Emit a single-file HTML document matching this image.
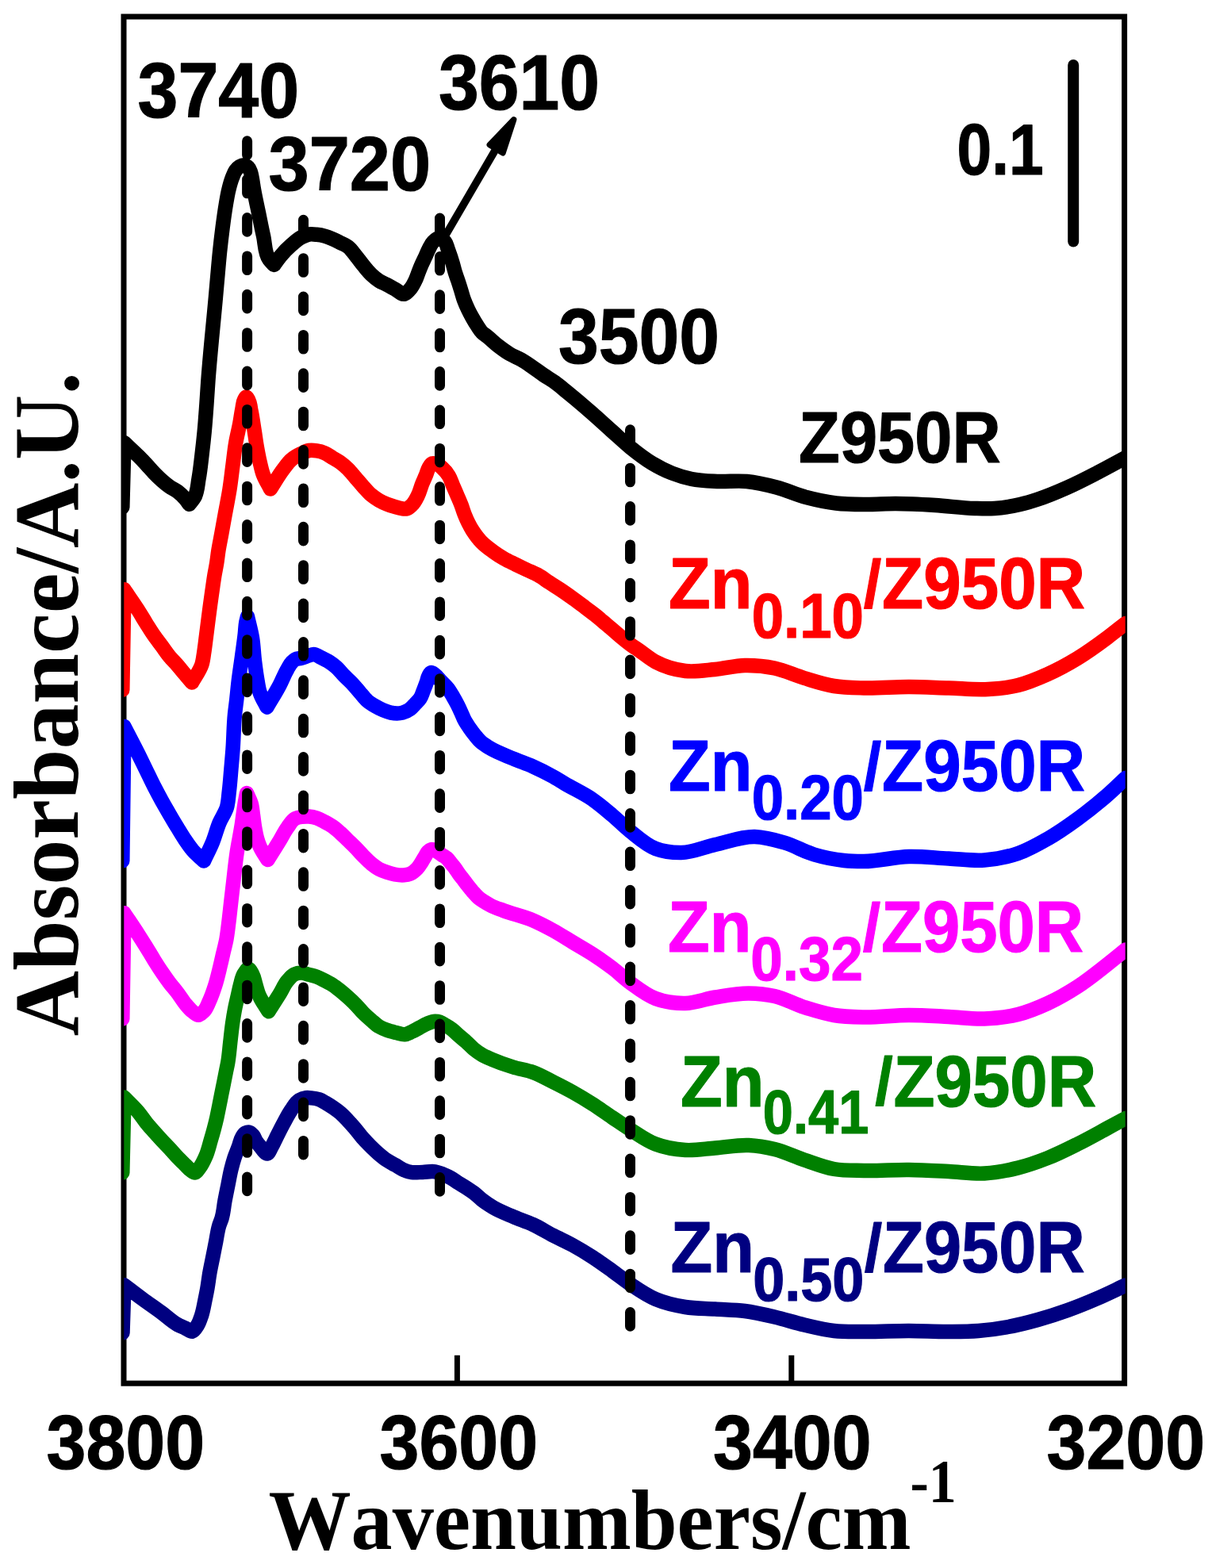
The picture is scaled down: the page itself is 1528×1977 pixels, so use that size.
<!DOCTYPE html>
<html lang="en">
<head>
<meta charset="utf-8">
<title>FTIR spectra of Zn/Z950R catalysts</title>
<style>
html,body{margin:0;padding:0;background:#fff;}
body{width:1528px;height:1977px;overflow:hidden;}
svg{display:block;}
text{white-space:pre;font-kerning:none;}
</style>
</head>
<body>
<svg xmlns="http://www.w3.org/2000/svg" width="1528" height="1977" viewBox="0 0 1528 1977">
<rect width="1528" height="1977" fill="#fff"/>
<defs><clipPath id="plot"><rect x="156.3" y="21" width="1262.4" height="1723.2"/></clipPath></defs>
<g id="axes" fill="none" stroke="#000" stroke-width="7" stroke-linejoin="miter">
<rect x="156" y="21" width="1261.6" height="1723.2"/>
<line x1="576.4" y1="1744.2" x2="576.4" y2="1708.8"/>
<line x1="997.8" y1="1744.2" x2="997.8" y2="1708.8"/>
</g>
<g id="curves" clip-path="url(#plot)" fill="none" stroke-width="18.5" stroke-linejoin="round" stroke-linecap="round">
<path id="c-black" stroke="#000000" d="M154.3 639.5L156.5 558C162.5 563.7 168.67 569.23 174.5 575.1C177.86 578.48 181.15 581.92 184.4 585.4C187.72 588.95 190.82 592.71 194.2 596.2C197.37 599.46 200.59 602.7 204 605.7C207.14 608.47 210.36 611.21 213.8 613.6C216.92 615.77 220.56 617.23 223.6 619.5C227.19 622.18 230.49 625.39 233.4 628.8C235.28 631 236.87 633.47 238.6 635.8C240.8 632.87 243.43 630.13 245.2 627C249.14 620.02 249.13 611.13 250.6 603.1C252.39 593.35 253.31 583.45 254.5 573.6C255.68 563.81 256.77 554.01 257.7 544.2C258.79 532.75 259.57 521.27 260.4 509.8C261.12 499.87 261.68 489.93 262.4 480C264.96 444.62 268.86 409.34 272 374C272.8 364.97 273.59 355.93 274.4 346.9C275.28 337.07 276.08 327.22 277.1 317.4C278.12 307.59 279.24 297.78 280.5 288C281.77 278.15 283.03 268.29 284.7 258.5C285.81 251.95 286.79 245.34 288.4 238.9C289.64 233.95 290.94 228.95 292.8 224.2C294.03 221.07 295.02 217.66 297 215C298.38 213.14 300.01 211.12 302 210C303.75 209.01 306.09 208.05 308 208.3C309.74 208.52 311.71 209.74 313 211C314.52 212.49 315.25 214.91 316 217C316.83 219.29 317.11 221.79 317.6 224.2C318.59 229.06 319.14 234.01 320 238.9C321.74 248.78 323.98 258.57 326 268.4C328.01 278.2 329.89 288.04 332.1 297.8C334.32 307.64 333.53 319.2 339.3 327.2C341.05 329.63 343.43 331.73 345.5 334C348.23 330.27 350.76 326.36 353.7 322.8C357.85 317.78 362.49 313.08 367.4 308.8C371.32 305.39 375.24 301.7 379.8 299.3C382.87 297.69 386.21 296.06 389.6 295.5C392.76 294.98 396.16 295.46 399.4 295.8C402.73 296.15 406.07 296.73 409.3 297.6C412.65 298.51 415.9 299.84 419.1 301.2C422.44 302.62 425.65 304.36 428.9 306C432.19 307.66 435.79 308.94 438.7 311.1C442.62 314 445.34 318.48 448.5 322.3C451.89 326.4 454.91 330.8 458.3 334.9C461.49 338.76 464.57 342.77 468.2 346.2C471.24 349.07 474.47 351.87 478 354.1C481.07 356.04 484.57 357.3 487.8 359C491.1 360.73 494.31 362.65 497.6 364.4C501.69 366.58 506.26 371.61 510 370.7C512.71 370.04 515.36 366.53 517.5 364C520.11 360.91 521.95 357.09 523.7 353.4C525.2 350.25 526.2 346.86 527.5 343.6C528.8 340.32 530.08 337.03 531.5 333.8C532.95 330.5 534.59 327.28 536.1 324C537.59 320.75 538.85 317.37 540.5 314.2C542.15 311.04 543.51 307.43 546 305C548.05 303 551.01 300.32 553.5 300.3C556.11 300.28 559.44 303.03 561.3 305.3C563.21 307.63 563.61 311.22 564.7 314.2C566.83 320.01 568.84 325.87 570.6 331.8C571.76 335.71 572.59 339.71 573.8 343.6C574.83 346.9 576.1 350.12 577.2 353.4C578.51 357.32 579.76 361.26 581 365.2C582.33 369.46 583.37 373.82 584.9 378C586.48 382.32 588.39 386.55 590.4 390.7C592.02 394.05 593.77 397.35 595.6 400.6C597.47 403.92 599.4 407.22 601.5 410.4C603.48 413.41 605.27 416.68 607.8 419.2C609.72 421.11 612.16 422.5 614.3 424.2C619.18 428.08 623.57 432.59 628.5 436.4C633.1 439.95 637.8 443.46 642.8 446.4C647.37 449.09 652.49 450.87 657.1 453.5C662.01 456.3 666.63 459.61 671.3 462.8C676.13 466.1 680.76 469.71 685.6 473C690.3 476.2 695.29 478.98 699.9 482.3C704.96 485.94 709.67 490.06 714.5 494C725.5 502.96 736.33 512.15 747 521.5C755.43 528.89 763.64 536.53 772 544C779.48 550.69 786.71 557.69 794.5 564C803.3 571.12 812.3 578.21 822 584C829.97 588.76 838.36 593.1 847 596.5C855.07 599.67 863.52 602.26 872 604C882.44 606.15 893.31 606.46 904 607C916.47 607.63 929.12 605.79 941.5 607C954.12 608.24 966.7 611.25 979 614.5C991.71 617.86 1003.79 623.64 1016.5 627C1028.8 630.25 1041.38 633 1054 634.5C1066.38 635.97 1079 635.92 1091.5 636C1104 636.08 1116.5 634.98 1129 635C1145.67 635.03 1162.35 636 1179 637C1195.69 638 1212.3 640.56 1229 641C1237.32 641.22 1245.71 641.56 1254 641C1264.74 640.27 1275.5 638.44 1286 636C1293.59 634.24 1301.09 631.94 1308.5 629.5C1321.27 625.3 1333.71 619.97 1346 614.5C1358.72 608.84 1371.11 602.38 1383.5 596C1395.43 589.86 1407.17 583.33 1419 577"/>
<path id="c-red" stroke="#ff0000" d="M154.3 869.8L156.5 743.3C162.5 752.17 168.76 760.86 174.5 769.9C177.89 775.24 181.03 780.74 184.4 786.1C187.61 791.2 190.76 796.35 194.2 801.3C197.33 805.8 200.74 810.09 204 814.5C207.27 818.93 210.3 823.56 213.8 827.8C216.89 831.55 220.41 834.93 223.6 838.6C226.95 842.46 230.11 846.49 233.4 850.4C236.25 853.78 239.13 857.13 242 860.5C246.17 852.87 251.98 845.82 254.5 837.6C255.94 832.89 256.41 827.82 257.2 822.9C258.25 816.4 258.95 809.84 259.8 803.3C260.65 796.74 261.46 790.17 262.3 783.6C263.14 777.07 263.97 770.53 264.85 764C265.73 757.46 266.66 750.93 267.6 744.4C268.54 737.83 269.4 731.24 270.5 724.7C271.33 719.79 272.41 714.92 273.2 710C274.06 704.69 274.56 699.32 275.4 694C276.46 687.31 277.88 680.67 279.1 674C280.75 664.97 282.36 655.93 284 646.9C285.79 637.06 287.84 627.27 289.4 617.4C290.94 607.64 292 597.8 293.3 588C294.6 578.17 295.51 568.27 297.2 558.5C298.62 550.29 300.78 542.2 302.3 534C303.47 527.69 304.21 521.29 305.5 515C306.26 511.32 306.19 507.23 308 504C308.69 502.77 309.68 500.62 310.5 500.5C311.53 500.35 312.67 503.43 313.5 505C315.54 508.88 315.59 513.65 316.5 518C318.28 526.53 319.43 535.19 320.8 543.8C321.84 550.33 322.66 556.89 323.8 563.4C324.95 569.96 326.17 576.52 327.7 583C328.87 587.96 329.88 593.03 331.6 597.8C333.95 604.33 337.87 610.27 341 616.5C346.53 608.03 351.4 599.07 357.6 591.1C360.7 587.11 363.6 582.74 367.4 579.5C371.04 576.39 375.45 574 379.8 571.9C382.95 570.37 386.21 568.55 389.6 568C392.76 567.49 396.19 567.9 399.4 568.4C402.76 568.93 406.17 569.87 409.3 571.2C412.78 572.68 415.83 575.13 419.1 577.1C422.37 579.07 425.81 580.79 428.9 583C432.39 585.49 435.63 588.4 438.7 591.4C442.23 594.86 445.24 598.86 448.5 602.6C451.77 606.36 454.94 610.22 458.3 613.9C461.51 617.41 464.57 621.16 468.2 624.2C471.23 626.74 474.57 629.02 478 631C481.13 632.8 484.44 634.36 487.8 635.7C490.98 636.97 494.3 637.95 497.6 638.9C500.47 639.72 503.35 640.69 506.3 641.1C508.34 641.39 510.59 641.94 512.5 641.5C514.93 640.93 517.1 638.75 519 637C522.54 633.74 524.72 628.96 526.9 624.6C529.22 619.96 530.34 614.74 532.3 609.9C533.78 606.26 535.52 602.74 537 599.1C538.23 596.09 538.85 592.76 540.5 590C541.73 587.95 543.01 584.97 545 584.3C546.66 583.74 549.16 584.51 551 585.2C553.45 586.11 555.5 588.22 557.5 590C560.71 592.86 563.56 596.34 565.8 600C568.02 603.62 569.2 607.87 570.9 611.8C572.6 615.73 574.32 619.66 576 623.6C577.82 627.86 579.73 632.08 581.4 636.4C583.02 640.59 584.22 644.94 585.9 649.1C587.25 652.45 588.7 655.77 590.3 659C591.96 662.34 593.71 665.65 595.7 668.8C597.62 671.84 599.75 674.79 602 677.6C603.62 679.63 605.31 681.63 607.1 683.5C611.35 687.93 616.43 691.58 621.4 695.2C625.99 698.54 630.77 701.69 635.7 704.5C640.29 707.12 645.15 709.27 649.9 711.6C654.65 713.93 659.42 716.23 664.2 718.5C668.95 720.76 673.91 722.64 678.5 725.2C683.44 727.96 687.94 731.51 692.7 734.6C697.44 737.68 702.3 740.57 707 743.7C711.84 746.93 716.58 750.3 721.3 753.7C726.08 757.14 730.79 760.67 735.5 764.2C740.29 767.8 745.11 771.37 749.8 775.1C754.65 778.96 759.36 783.01 764.1 787C768.86 791.01 773.53 795.11 778.3 799.1C783.03 803.05 787.7 807.08 792.6 810.8C797.24 814.33 802.12 817.55 806.9 820.9C813.41 825.46 819.56 830.8 826.5 834.5C837.91 840.58 851.22 844.48 864 846C876.24 847.45 889.05 845.16 901.5 844C914.05 842.83 926.47 839.24 939 839C951.47 838.76 964.29 839.97 976.5 842.5C989.32 845.16 1001.38 851.22 1014 855C1026.39 858.71 1038.79 862.92 1051.5 865C1063.81 867.01 1076.49 867.13 1089 867.5C1107.98 868.06 1127 865.93 1146 866C1162.67 866.06 1179.33 867 1196 867.5C1212.67 868 1229.41 870.04 1246 869C1258.55 868.21 1271.33 867 1283.5 864C1296.37 860.83 1308.85 855.45 1321 850C1333.9 844.21 1346.41 837.34 1358.5 830C1371.48 822.11 1383.82 813.1 1396 804C1403.8 798.18 1411.33 792 1419 786"/>
<path id="c-blue" stroke="#0000ff" d="M154.3 1085.3L156.5 916.1C162.5 927.73 168.65 939.29 174.5 951C177.85 957.71 181.11 964.46 184.4 971.2C187.67 977.9 190.81 984.66 194.2 991.3C197.36 997.49 200.64 1003.62 204 1009.7C207.18 1015.45 210.49 1021.13 213.8 1026.8C217.02 1032.32 220.27 1037.84 223.6 1043.3C226.81 1048.57 229.93 1053.9 233.4 1059C236.54 1063.61 239.65 1068.31 243.3 1072.5C247.42 1077.23 252.43 1081.17 257 1085.5C260.67 1077.67 264.74 1070 268 1062C271.28 1053.97 273.25 1045.4 276.6 1037.4C279.4 1030.73 283.97 1024.67 286 1017.8C287.85 1011.54 288 1004.75 288.8 998.2C290 988.4 290.64 978.54 291.5 968.7C292.19 960.8 292.91 952.91 293.5 945C294.63 930.02 294.55 914.94 296.1 900C296.7 894.22 297.54 888.47 298.2 882.7C299.14 874.54 299.81 866.35 300.8 858.2C301.99 848.35 303.56 838.54 304.9 828.7C306.23 818.9 307.7 809.12 308.8 799.3C309.35 794.37 309.35 789.36 310.3 784.5C310.76 782.15 311.43 779.83 312 777.5C314 786.4 316.52 795.22 318 804.2C319.6 813.9 319.79 823.83 321 833.6C322.02 841.82 323.03 850.05 324.5 858.2C325.39 863.12 326.01 868.17 327.5 872.9C329.56 879.45 333.5 885.37 336.5 891.6C341.9 882.27 347.71 873.15 352.7 863.6C356.16 856.97 358.66 849.81 362.5 843.4C364.22 840.53 365.7 837.38 368 835C369.29 833.67 370.7 832.26 372.3 831.4C374.49 830.23 377.33 830.45 379.8 829.8C383.13 828.92 386.3 827.48 389.6 826.5C391.55 825.92 393.57 824.91 395.5 824.9C398.57 824.89 401.47 827.48 404.4 828.9C408.06 830.67 411.78 832.41 415.2 834.6C418.28 836.57 421.26 838.79 424 841.2C427.6 844.37 430.44 848.36 433.8 851.8C436.98 855.05 440.47 858 443.6 861.3C447.03 864.91 450.11 868.86 453.4 872.6C456.67 876.32 459.55 880.52 463.3 883.7C466.28 886.23 469.71 888.31 473.1 890.3C476.26 892.15 479.53 893.89 482.9 895.3C486.07 896.63 489.36 897.95 492.7 898.6C497.45 899.52 502.78 899.83 507.4 898.6C510.75 897.71 514.17 896.06 517 894C519.44 892.22 521.39 889.72 523.5 887.5C525.59 885.29 527.95 883.21 529.6 880.7C531.52 877.77 532.47 874.19 533.8 870.9C535.24 867.33 536.64 863.74 537.9 860.1C538.83 857.42 539.11 854.43 540.5 852C541.32 850.57 542.27 848.28 543.5 848C544.76 847.71 546.61 849.53 548 850.5C550.81 852.46 552.72 855.58 555.1 858.1C558.27 861.46 561.89 864.46 564.7 868.1C567.12 871.24 569.08 874.77 571.1 878.2C572.99 881.41 574.8 884.68 576.5 888C578.24 891.38 579.81 894.85 581.4 898.3C582.91 901.58 584.1 905.02 585.8 908.2C587.53 911.43 589.63 914.47 591.7 917.5C593.88 920.68 596.17 923.8 598.6 926.8C600.95 929.7 603.26 932.7 606 935.2C609.2 938.11 613.02 940.4 616.7 942.7C626.07 948.57 636.79 952.16 647 956.5C655.26 960.01 663.82 962.83 672 966.5C680.49 970.31 688.88 974.45 697 979C702.08 981.85 706.98 985.03 712 988C723.57 994.84 735.99 1000.37 747 1008C755.75 1014.06 763.85 1021.12 772 1028C779.66 1034.47 786.66 1041.76 794.5 1048C804.61 1056.05 814.68 1065.57 826.5 1070C836.51 1073.75 848.24 1075.13 859 1075C873.29 1074.83 887.29 1068.11 901.5 1065C918.1 1061.37 934.83 1054.52 951.5 1055C964 1055.36 976.82 1058.91 989 1062.5C1001.86 1066.29 1013.64 1073.71 1026.5 1077.5C1038.68 1081.09 1051.36 1083.7 1064 1085C1072.27 1085.85 1080.68 1086.03 1089 1086C1108.06 1085.92 1126.96 1080.42 1146 1080C1162.63 1079.63 1179.33 1081.72 1196 1082.5C1211 1083.21 1226.14 1085.67 1241 1084.5C1255.3 1083.37 1269.95 1080.64 1283.5 1076C1296.57 1071.52 1308.93 1064.42 1321 1057.5C1334 1050.04 1346.37 1041.34 1358.5 1032.5C1371.42 1023.08 1383.99 1013.06 1396 1002.5C1403.88 995.58 1411.33 988.17 1419 981"/>
<path id="c-magenta" stroke="#ff00ff" d="M154.3 1284.7L156.5 1151.3C162.5 1160.33 168.64 1169.28 174.5 1178.4C177.84 1183.6 181.15 1188.84 184.4 1194.1C187.72 1199.47 190.85 1204.95 194.2 1210.3C197.4 1215.41 200.62 1220.51 204 1225.5C207.17 1230.17 210.39 1234.8 213.8 1239.3C216.95 1243.46 220.45 1247.34 223.6 1251.5C227.01 1256 229.8 1260.97 233.4 1265.3C236.38 1268.88 239.31 1272.7 243 1275.5C245.16 1277.14 247.7 1279.83 250 1279.8C252.37 1279.77 255.03 1276.93 257 1275C260.35 1271.72 261.85 1266.65 263.9 1262.3C266.86 1256.01 269.07 1249.33 271.2 1242.7C273.78 1234.67 275.62 1226.4 277.6 1218.2C278.79 1213.28 279.87 1208.33 281 1203.4C282.5 1196.87 284.29 1190.39 285.5 1183.8C286.69 1177.32 287.37 1170.74 288.2 1164.2C289.24 1156.01 290.06 1147.8 291 1139.6C292.09 1130.07 293.18 1120.53 294.3 1111C295.73 1098.9 296.89 1086.75 298.7 1074.7C300.33 1063.86 302.68 1053.13 304.4 1042.3C305.9 1032.89 306.93 1023.4 308.5 1014C309.28 1009.33 310.17 1004.67 311 1000C312.87 1004.3 315.27 1008.44 316.6 1012.9C318.01 1017.62 318.27 1022.69 319 1027.6C319.73 1032.49 320.17 1037.43 321 1042.3C321.84 1047.23 322.63 1052.2 324 1057C324.95 1060.35 326.05 1063.7 327.4 1066.9C329.98 1073 334.13 1078.37 337.5 1084.1C342.57 1075.97 347.72 1067.89 352.7 1059.7C356.01 1054.26 358.73 1048.4 362.5 1043.3C365.46 1039.31 368.01 1034.13 372.3 1032C374.53 1030.89 377.26 1030.43 379.8 1030C383.01 1029.46 386.36 1029.26 389.6 1029.5C392.9 1029.74 396.25 1030.47 399.4 1031.5C402.85 1032.63 406.07 1034.5 409.3 1036.2C412.64 1037.96 416 1039.76 419.1 1041.9C422.58 1044.3 425.74 1047.18 428.9 1050C432.29 1053.03 435.44 1056.32 438.7 1059.5C441.98 1062.69 445.3 1065.84 448.5 1069.1C451.84 1072.5 454.95 1076.12 458.3 1079.5C461.52 1082.75 464.66 1086.13 468.2 1089C471.28 1091.49 474.51 1093.94 478 1095.8C481.09 1097.45 484.46 1098.67 487.8 1099.8C491 1100.89 494.28 1101.9 497.6 1102.5C501.43 1103.2 505.45 1103.77 509.3 1103.4C511.92 1103.15 514.7 1102.7 517.1 1101.7C520.45 1100.31 523.48 1097.67 526 1095C528.11 1092.77 529.71 1090 531.4 1087.4C532.96 1084.99 534.31 1082.45 535.8 1080C537.02 1077.99 537.87 1075.64 539.5 1074C540.64 1072.85 542.06 1071.46 543.5 1071.1C545.47 1070.6 547.97 1072.09 550 1073C552.7 1074.21 554.92 1076.43 557.4 1078.1C559.36 1079.42 561.55 1080.45 563.3 1082C565.19 1083.68 566.57 1085.93 568.2 1087.9C569.83 1089.87 571.55 1091.77 573.1 1093.8C575.03 1096.33 576.61 1099.13 578.5 1101.7C580.07 1103.84 581.79 1105.89 583.4 1108C585.39 1110.61 587.28 1113.31 589.3 1115.9C591.36 1118.54 593.45 1121.17 595.65 1123.7C598.01 1126.41 600.28 1129.28 603 1131.6C605.13 1133.42 607.54 1134.96 609.9 1136.5C612.71 1138.33 615.62 1140.06 618.6 1141.6C623.67 1144.21 629.16 1145.97 634.5 1148C646.81 1152.69 659.92 1155.32 672 1160.5C680.54 1164.16 688.84 1168.53 697 1173C705.52 1177.67 713.67 1183 722 1188C730.33 1193 738.85 1197.72 747 1203C755.53 1208.53 763.91 1214.35 772 1220.5C779.72 1226.37 786.68 1233.28 794.5 1239C804.63 1246.41 814.96 1254.67 826.5 1259C838.11 1263.36 851.54 1265.23 864 1265C876.54 1264.76 888.92 1259.52 901.5 1257.5C915.57 1255.24 929.82 1252.36 944 1252.5C954.83 1252.61 965.95 1253.64 976.5 1256C989.42 1258.88 1001.3 1265.96 1014 1270C1026.31 1273.92 1038.79 1277.92 1051.5 1280C1063.81 1282.01 1076.49 1282.22 1089 1282.5C1107.99 1282.93 1127 1279.98 1146 1280C1162.67 1280.01 1179.34 1281.2 1196 1282C1211.01 1282.72 1226.05 1285.08 1241 1284.5C1255.21 1283.95 1269.74 1282.47 1283.5 1279C1296.35 1275.76 1308.91 1270.56 1321 1265C1333.98 1259.03 1346.49 1251.75 1358.5 1244C1371.58 1235.56 1383.71 1225.61 1396 1216C1403.75 1209.94 1411.33 1203.67 1419 1197.5"/>
<path id="c-green" stroke="#008000" d="M154.3 1478.6L156.5 1383.6C162.5 1389.83 169.01 1395.64 174.5 1402.3C178.01 1406.56 180.93 1411.3 184.4 1415.6C187.53 1419.48 190.89 1423.17 194.2 1426.9C197.43 1430.54 200.69 1434.14 204 1437.7C207.23 1441.17 210.57 1444.53 213.8 1448C217.11 1451.56 220.25 1455.28 223.6 1458.8C226.79 1462.14 230.11 1465.36 233.4 1468.6C235.75 1470.91 237.82 1473.62 240.5 1475.5C242.15 1476.66 244.19 1478.55 245.8 1478.5C247.99 1478.43 249.79 1474.64 251.5 1472.5C254.94 1468.18 257.24 1462.89 259.45 1457.8C262.17 1451.55 263.65 1444.76 265.6 1438.2C267.06 1433.28 268.49 1428.36 269.8 1423.4C271.09 1418.52 272.3 1413.62 273.4 1408.7C274.49 1403.82 275.42 1398.9 276.4 1394C277.38 1389.1 278.32 1384.2 279.3 1379.3C280.29 1374.36 281.31 1369.44 282.3 1364.5C283.28 1359.6 284.21 1354.7 285.2 1349.8C285.86 1346.53 286.61 1343.28 287.2 1340C288.69 1331.71 289.21 1323.27 290.2 1314.9C291.17 1306.7 291.91 1298.47 293.1 1290.3C294.06 1283.75 295.1 1277.19 296.4 1270.7C297.39 1265.78 298.58 1260.9 299.7 1256C300.82 1251.1 301.74 1246.14 303.1 1241.3C304.37 1236.81 305.07 1231.89 307.5 1228C308.98 1225.63 311.23 1221.49 313 1221.5C314.83 1221.51 316.89 1225.98 318.3 1228.5C320.46 1232.34 320.98 1237.03 322.3 1241.3C323.61 1245.53 324.58 1249.91 326.2 1254C329.2 1261.55 334.4 1268.13 338.5 1275.2C343.23 1267.8 348.1 1260.48 352.7 1253C356.04 1247.58 358.4 1241.4 362.5 1236.6C365.02 1233.65 367.61 1230.16 371 1228.5C373.6 1227.22 376.87 1226.51 379.8 1226.5C383.07 1226.48 386.35 1228.05 389.6 1228.9C392.88 1229.75 396.23 1230.43 399.4 1231.6C402.82 1232.86 406.05 1234.64 409.3 1236.3C412.62 1238 415.97 1239.7 419.1 1241.7C422.52 1243.89 425.72 1246.46 428.9 1249C432.26 1251.68 435.5 1254.52 438.7 1257.4C442.04 1260.41 445.35 1263.49 448.5 1266.7C451.9 1270.17 454.86 1274.07 458.3 1277.5C461.46 1280.64 464.81 1283.6 468.2 1286.5C471.39 1289.23 474.43 1292.26 478 1294.4C481.05 1296.23 484.45 1297.58 487.8 1298.8C491.56 1300.17 495.5 1301.05 499.4 1302C502.98 1302.87 506.69 1304.65 510.2 1304.3C513.23 1304 516.21 1302.2 519.1 1300.9C522.47 1299.39 525.63 1297.42 528.9 1295.7C532.16 1293.99 535.29 1291.94 538.7 1290.6C541.85 1289.36 545.17 1287.86 548.5 1287.8C550.45 1287.77 552.54 1288.03 554.4 1288.6C556.88 1289.36 559.03 1291.15 561.3 1292.5C564.29 1294.28 567.35 1296 570.1 1298.1C572.92 1300.25 575.33 1302.94 578 1305.3C581.21 1308.13 584.61 1310.75 587.8 1313.6C591.15 1316.6 594.11 1320.07 597.6 1322.9C600.69 1325.41 603.97 1327.78 607.4 1329.8C611.38 1332.14 615.75 1333.86 620 1335.7C628.78 1339.5 637.86 1342.68 647 1345.5C655.22 1348.03 663.94 1349.08 672 1352C680.65 1355.13 688.73 1359.87 697 1364C705.4 1368.2 713.8 1372.42 722 1377C730.48 1381.74 738.81 1386.77 747 1392C755.49 1397.42 763.64 1403.37 772 1409C779.48 1414.03 786.87 1419.21 794.5 1424C804.93 1430.55 815.14 1438.18 826.5 1442.5C838.26 1446.97 851.39 1449.19 864 1450C876.39 1450.8 889.01 1448.42 901.5 1447.5C915.68 1446.45 929.9 1443.29 944 1444C954.87 1444.55 965.9 1446.41 976.5 1449C989.35 1452.14 1001.4 1458.3 1014 1462.5C1026.4 1466.63 1038.72 1471.77 1051.5 1474C1063.74 1476.14 1076.49 1475.69 1089 1476C1107.99 1476.48 1127.01 1474.75 1146 1475C1162.67 1475.22 1179.34 1476.2 1196 1477C1211.01 1477.72 1226.09 1480.34 1241 1479.5C1255.25 1478.7 1269.62 1475.98 1283.5 1472.5C1296.24 1469.3 1308.77 1464.85 1321 1460C1333.8 1454.92 1346.16 1448.66 1358.5 1442.5C1371.17 1436.18 1383.53 1429.23 1396 1422.5C1403.68 1418.36 1411.33 1414.17 1419 1410"/>
<path id="c-navy" stroke="#000080" d="M154.5 1680.5L156.5 1620.3C164.13 1626.07 171.7 1631.92 179.4 1637.6C187.53 1643.6 195.87 1649.31 204 1655.3C210.58 1660.14 216.45 1666.14 223.6 1670C226.75 1671.7 230.13 1673 233.4 1674.5C236.43 1675.9 239.9 1679.27 242.5 1678.7C245.11 1678.13 247.22 1673.8 249 1671C251.35 1667.31 252.65 1662.89 254.05 1658.7C256.17 1652.37 257.13 1645.66 258.5 1639.1C259.53 1634.18 260.52 1629.25 261.4 1624.3C262.55 1617.79 263.26 1611.21 264.4 1604.7C265.55 1598.14 267 1591.63 268.3 1585.1C269.6 1578.53 270.9 1571.97 272.2 1565.4C273.5 1558.87 274.18 1552.16 276.1 1545.8C277.1 1542.49 278.61 1539.31 279.6 1536C281.74 1528.82 282.11 1521.18 283.5 1513.8C284.73 1507.25 286.09 1500.73 287.4 1494.2C288.72 1487.63 289.8 1481 291.4 1474.5C292.61 1469.56 293.91 1464.63 295.5 1459.8C297.16 1454.79 299.4 1449.97 301.2 1445C302.52 1441.35 302.99 1437.25 305 1434C306.22 1432.01 307.51 1429.53 309.5 1428.5C310.79 1427.83 312.63 1427.26 314 1427.5C315.7 1427.79 317.21 1429.65 318.5 1431C320.69 1433.28 321.48 1436.75 323.3 1439.4C324.79 1441.57 326.48 1443.61 328.2 1445.6C330.92 1448.75 334.44 1455.11 337 1454.5C339.07 1454.01 340.82 1448.92 342.5 1446C344.48 1442.56 346.02 1438.86 347.8 1435.3C351.02 1428.87 354.16 1422.41 357.6 1416.1C360.73 1410.36 363.63 1404.42 367.4 1399.1C370.36 1394.92 372.94 1389.74 377.2 1387.2C379.69 1385.71 382.77 1384.58 385.7 1384.2C387.88 1383.92 390.18 1384.19 392.4 1384.4C395.77 1384.71 399.23 1385.18 402.4 1386.3C405.31 1387.33 407.99 1389.06 410.7 1390.6C414.1 1392.53 417.39 1394.67 420.6 1396.9C423.61 1398.99 426.63 1401.12 429.4 1403.5C432.54 1406.2 435.34 1409.29 438.2 1412.3C441.26 1415.52 444.22 1418.83 447.1 1422.2C450.49 1426.17 453.46 1430.48 456.9 1434.4C460.02 1437.96 463.34 1441.36 466.7 1444.7C470.04 1448.02 473.43 1451.33 477 1454.4C480.47 1457.38 484 1460.36 487.8 1462.9C491.24 1465.2 495 1467.03 498.6 1469.1C502.17 1471.16 505.52 1473.75 509.3 1475.3C512.42 1476.58 515.78 1477.59 519.1 1478.1C523.57 1478.79 528.23 1478.02 532.8 1477.9C538.04 1477.77 543.42 1476.48 548.5 1477.3C552.88 1478.01 557.17 1479.9 561.3 1481.7C563.65 1482.72 565.96 1483.86 568.2 1485.1C571.61 1486.99 574.69 1489.43 578 1491.5C581.23 1493.53 584.6 1495.33 587.8 1497.4C591.14 1499.56 594.45 1501.78 597.6 1504.2C601.01 1506.82 604.01 1509.96 607.4 1512.6C612.03 1516.2 616.95 1519.53 622 1522.5C629.88 1527.13 638.57 1530.38 647 1534C655.24 1537.54 663.88 1540.21 672 1544C680.57 1548 688.6 1553.13 697 1557.5C705.27 1561.8 713.84 1565.53 722 1570C730.52 1574.67 738.85 1579.72 747 1585C755.53 1590.53 763.73 1596.57 772 1602.5C779.56 1607.92 786.79 1613.82 794.5 1619C804.79 1625.91 815.19 1633.2 826.5 1638C838.3 1643 851.29 1645.92 864 1648C876.31 1650.01 889 1649.67 901.5 1650.5C914 1651.33 926.61 1651.36 939 1653C951.61 1654.67 964.09 1657.61 976.5 1660.5C989.09 1663.43 1001.41 1667.57 1014 1670.5C1026.41 1673.39 1038.88 1676.59 1051.5 1678C1063.88 1679.38 1076.5 1678.89 1089 1679C1108 1679.17 1127 1677.95 1146 1678C1162.67 1678.04 1179.33 1679.11 1196 1679C1208.5 1678.92 1221.05 1678.99 1233.5 1678C1246.05 1677 1258.62 1675.3 1271 1673C1283.62 1670.66 1296.13 1667.45 1308.5 1664C1321.13 1660.47 1333.66 1656.43 1346 1652C1358.66 1647.45 1371.15 1642.34 1383.5 1637C1395.47 1631.82 1407.17 1626 1419 1620.5"/>
</g>
<g id="guides" fill="none" stroke="#000" stroke-width="13" stroke-linecap="round" stroke-dasharray="17.6 30.78">
<line x1="311.6" y1="177.8" x2="311.6" y2="1502.5"/>
<line x1="382.5" y1="277.3" x2="382.5" y2="1457.5"/>
<line x1="554.5" y1="275.1" x2="554.5" y2="1502.8"/>
<line x1="794.5" y1="541.8" x2="794.5" y2="1673"/>
</g>
<line x1="1353.2" y1="82" x2="1353.2" y2="304.5" stroke="#000" stroke-width="14" stroke-linecap="round"/>
<g id="arrow" stroke="#000" fill="#000" stroke-linejoin="round" stroke-linecap="round">
<line x1="561.5" y1="297" x2="628" y2="183" stroke-width="9.6" stroke-linecap="butt"/>
<path d="M647.7 150.8L617.3 182.5L634 192.8Z" stroke-width="7.4"/>
</g>
<g id="labels">
<text transform="translate(173.54 148.17) scale(0.9310 1)" font-family='"Liberation Sans", sans-serif' font-weight="bold" font-size="98.31" fill="#000" stroke="#000" stroke-width="1.2" stroke-linejoin="round">3740</text>
<text transform="translate(338.53 240.19) scale(0.9494 1)" font-family='"Liberation Sans", sans-serif' font-weight="bold" font-size="96.9" fill="#000" stroke="#000" stroke-width="1.2" stroke-linejoin="round">3720</text>
<text transform="translate(553.05 138.17) scale(0.9287 1)" font-family='"Liberation Sans", sans-serif' font-weight="bold" font-size="98.31" fill="#000" stroke="#000" stroke-width="1.2" stroke-linejoin="round">3610</text>
<text transform="translate(704.05 458.17) scale(0.9287 1)" font-family='"Liberation Sans", sans-serif' font-weight="bold" font-size="98.31" fill="#000" stroke="#000" stroke-width="1.2" stroke-linejoin="round">3500</text>
<text transform="translate(1206.46 219.98) scale(0.8576 1)" font-family='"Liberation Sans", sans-serif' font-weight="bold" font-size="91.59" fill="#000" stroke="#000" stroke-width="1.2" stroke-linejoin="round">0.1</text>
<text transform="translate(1007.05 583) scale(0.9411 1)" font-family='"Liberation Sans", sans-serif' font-weight="bold" font-size="90.18" fill="#000" stroke="#000" stroke-width="1.2" stroke-linejoin="round">Z950R</text>
<text transform="translate(58.58 1852.19) scale(0.9295 1)" font-family='"Liberation Sans", sans-serif' font-weight="bold" font-size="96.48" fill="#000" stroke="#000" stroke-width="1.2" stroke-linejoin="round">3800</text>
<text transform="translate(478.58 1852.19) scale(0.9295 1)" font-family='"Liberation Sans", sans-serif' font-weight="bold" font-size="96.48" fill="#000" stroke="#000" stroke-width="1.2" stroke-linejoin="round">3600</text>
<text transform="translate(899.08 1852.19) scale(0.9295 1)" font-family='"Liberation Sans", sans-serif' font-weight="bold" font-size="96.48" fill="#000" stroke="#000" stroke-width="1.2" stroke-linejoin="round">3400</text>
<text transform="translate(1319.58 1852.19) scale(0.9295 1)" font-family='"Liberation Sans", sans-serif' font-weight="bold" font-size="96.48" fill="#000" stroke="#000" stroke-width="1.2" stroke-linejoin="round">3200</text>
<g class="series-label">
<text transform="translate(843.01 767.2) scale(0.9524 1)" font-family='"Liberation Sans", sans-serif' font-weight="bold" font-size="90.62" fill="#ff0000" stroke="#ff0000" stroke-width="1.2" stroke-linejoin="round">Zn</text>
<text transform="translate(947.7 803.51) scale(0.9188 1)" font-family='"Liberation Sans", sans-serif' font-weight="bold" font-size="79.01" fill="#ff0000" stroke="#ff0000" stroke-width="1.2" stroke-linejoin="round">0.10</text>
<text transform="translate(1088.79 765.99) scale(0.9432 1)" font-family='"Liberation Sans", sans-serif' font-weight="bold" font-size="85.64" fill="#ff0000" stroke="#ff0000" stroke-width="1.2" stroke-linejoin="round">/</text>
<text transform="translate(1112.04 767.09) scale(0.9423 1)" font-family='"Liberation Sans", sans-serif' font-weight="bold" font-size="90.6" fill="#ff0000" stroke="#ff0000" stroke-width="1.2" stroke-linejoin="round">Z950R</text>
</g>
<g class="series-label">
<text transform="translate(843.01 997.4) scale(0.9524 1)" font-family='"Liberation Sans", sans-serif' font-weight="bold" font-size="90.62" fill="#0000ff" stroke="#0000ff" stroke-width="1.2" stroke-linejoin="round">Zn</text>
<text transform="translate(947.7 1033.11) scale(0.9204 1)" font-family='"Liberation Sans", sans-serif' font-weight="bold" font-size="78.87" fill="#0000ff" stroke="#0000ff" stroke-width="1.2" stroke-linejoin="round">0.20</text>
<text transform="translate(1088.79 996.19) scale(0.9432 1)" font-family='"Liberation Sans", sans-serif' font-weight="bold" font-size="85.64" fill="#0000ff" stroke="#0000ff" stroke-width="1.2" stroke-linejoin="round">/</text>
<text transform="translate(1112.04 997.29) scale(0.9423 1)" font-family='"Liberation Sans", sans-serif' font-weight="bold" font-size="90.6" fill="#0000ff" stroke="#0000ff" stroke-width="1.2" stroke-linejoin="round">Z950R</text>
</g>
<g class="series-label">
<text transform="translate(842.01 1200.4) scale(0.9524 1)" font-family='"Liberation Sans", sans-serif' font-weight="bold" font-size="90.62" fill="#ff00ff" stroke="#ff00ff" stroke-width="1.2" stroke-linejoin="round">Zn</text>
<text transform="translate(946.19 1235.93) scale(0.9348 1)" font-family='"Liberation Sans", sans-serif' font-weight="bold" font-size="77.89" fill="#ff00ff" stroke="#ff00ff" stroke-width="1.2" stroke-linejoin="round">0.32</text>
<text transform="translate(1087.79 1199.19) scale(0.9432 1)" font-family='"Liberation Sans", sans-serif' font-weight="bold" font-size="85.64" fill="#ff00ff" stroke="#ff00ff" stroke-width="1.2" stroke-linejoin="round">/</text>
<text transform="translate(1111.05 1200.29) scale(0.9386 1)" font-family='"Liberation Sans", sans-serif' font-weight="bold" font-size="90.6" fill="#ff00ff" stroke="#ff00ff" stroke-width="1.2" stroke-linejoin="round">Z950R</text>
</g>
<g class="series-label">
<text transform="translate(858.01 1394.7) scale(0.9524 1)" font-family='"Liberation Sans", sans-serif' font-weight="bold" font-size="90.62" fill="#008000" stroke="#008000" stroke-width="1.2" stroke-linejoin="round">Zn</text>
<text transform="translate(961.86 1429.13) scale(0.8856 1)" font-family='"Liberation Sans", sans-serif' font-weight="bold" font-size="77.46" fill="#008000" stroke="#008000" stroke-width="1.2" stroke-linejoin="round">0.41</text>
<text transform="translate(1103.29 1393.49) scale(0.9432 1)" font-family='"Liberation Sans", sans-serif' font-weight="bold" font-size="85.64" fill="#008000" stroke="#008000" stroke-width="1.2" stroke-linejoin="round">/</text>
<text transform="translate(1126.54 1394.59) scale(0.9404 1)" font-family='"Liberation Sans", sans-serif' font-weight="bold" font-size="90.6" fill="#008000" stroke="#008000" stroke-width="1.2" stroke-linejoin="round">Z950R</text>
</g>
<g class="series-label">
<text transform="translate(845.51 1604.1) scale(0.9524 1)" font-family='"Liberation Sans", sans-serif' font-weight="bold" font-size="90.62" fill="#000080" stroke="#000080" stroke-width="1.2" stroke-linejoin="round">Zn</text>
<text transform="translate(949.22 1639.63) scale(0.9296 1)" font-family='"Liberation Sans", sans-serif' font-weight="bold" font-size="77.46" fill="#000080" stroke="#000080" stroke-width="1.2" stroke-linejoin="round">0.50</text>
<text transform="translate(1089.79 1602.89) scale(0.9432 1)" font-family='"Liberation Sans", sans-serif' font-weight="bold" font-size="85.64" fill="#000080" stroke="#000080" stroke-width="1.2" stroke-linejoin="round">/</text>
<text transform="translate(1113.05 1603.99) scale(0.9367 1)" font-family='"Liberation Sans", sans-serif' font-weight="bold" font-size="90.6" fill="#000080" stroke="#000080" stroke-width="1.2" stroke-linejoin="round">Z950R</text>
</g>
<text transform="translate(338.44 1952.68) scale(0.9655 1)" font-family='"Liberation Serif", serif' font-weight="bold" font-size="107.91" fill="#000">Wavenumbers/cm</text>
<text transform="translate(1147.38 1894) scale(0.9057 1)" font-family='"Liberation Serif", serif' font-weight="bold" font-size="77.27" fill="#000">-1</text>
<text transform="translate(97.77 1306.14) rotate(-90) scale(0.9885 1)" font-family='"Liberation Serif", serif' font-weight="bold" font-size="115.49" fill="#000">Absorbance/A.U.</text>
</g>
</svg>
</body>
</html>
